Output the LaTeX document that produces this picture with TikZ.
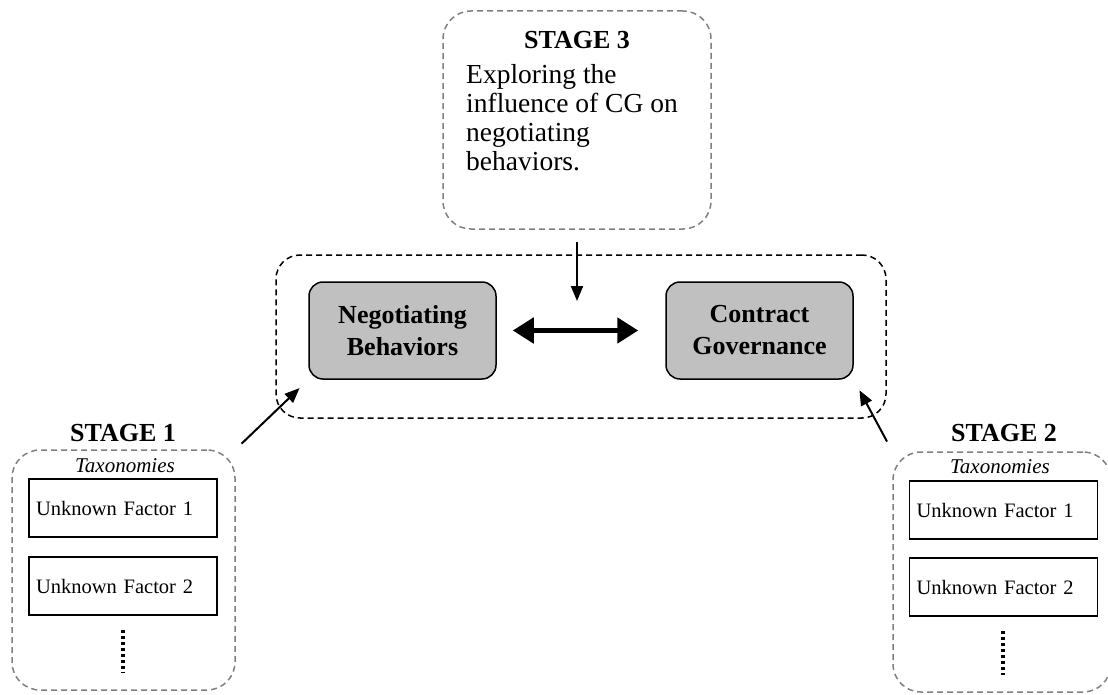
\documentclass[tikz,border=0pt]{standalone}
\usepackage{fontspec}
\setmainfont{Liberation Serif}
\usepackage{tikz}
\usetikzlibrary{arrows.meta, positioning}
\definecolor{stagegray}{RGB}{128, 128, 128}
\definecolor{corefill}{RGB}{192, 192, 192}
\tikzstyle{stagebox} = [rectangle, draw=stagegray, dash pattern=on 6pt off 4pt, rounded corners=28pt, line width=1.5pt, inner sep=0pt]
\tikzstyle{coreframe} = [rectangle, draw=black, dash pattern=on 6pt off 4pt, rounded corners=24pt, line width=1.5pt, minimum width=610pt, minimum height=163pt, inner sep=0pt]
\tikzstyle{corebox} = [rectangle, draw=black, fill=corefill, rounded corners=14pt, line width=1.5pt, minimum width=187pt, minimum height=97pt, inner sep=0pt, align=center, font=\fontsize{26}{32}\selectfont\bfseries]
\tikzstyle{factor} = [rectangle, draw=black, line width=1.5pt, text width=174pt, inner xsep=7pt, inner ysep=0pt, minimum height=58pt, align=left, font=\fontsize{20.5}{24}\selectfont]
\tikzstyle{stagelabel} = [inner sep=0pt, font=\fontsize{26}{28}\selectfont\bfseries]
\tikzstyle{taxlabel} = [inner sep=0pt, font=\fontsize{21}{24}\selectfont\itshape]
\tikzstyle{arrow} = [-{Triangle[length=15pt, width=12pt]}, line width=2pt]
\tikzstyle{bigarrow} = [{Triangle[length=21pt, width=25pt]}-{Triangle[length=21pt, width=25pt]}, line width=5pt]
\tikzstyle{dots} = [line width=4pt, dash pattern=on 3pt off 3pt]

\begin{document}
\begin{tikzpicture}[x=1pt, y=-1pt]
    \useasboundingbox (0,0) rectangle (1108,695);

    % Stage 3: research question
    \node[stagebox, minimum width=268pt, minimum height=218pt] (stage3) at (577, 120) {};
    \node[stagelabel] (stage3label) at (577, 40) {STAGE 3};
    \node[anchor=north west, align=left, inner sep=0pt, font=\fontsize{27.5}{29}\selectfont] (stage3text) at (466, 64) {Exploring the\\influence of CG on\\negotiating\\behaviors.};

    % Core constructs
    \node[coreframe] (core) at (581, 336.5) {};
    \node[corebox] (negbeh) at (402.5, 330.5) {Negotiating\\Behaviors};
    \node[corebox] (contgov) at (759.5, 330.5) {Contract\\Governance};
    \coordinate (coretop) at (577, 301);

    \draw[bigarrow, shorten <=16pt, shorten >=27pt] (negbeh) -- (contgov);
    \draw[arrow, shorten <=12pt] (stage3) -- (coretop);

    % Stage 1: taxonomies
    \node[stagebox, minimum width=223pt, minimum height=240pt] (stage1) at (123.5, 570) {};
    \node[stagelabel] (stage1label) at (123, 433) {STAGE 1};
    \node[taxlabel] (tax1) at (125, 466) {Taxonomies};
    \node[factor] (factor11) at (123, 508) {Unknown Factor 1};
    \node[factor] (factor12) at (123, 586) {Unknown Factor 2};
    \coordinate (dots1top) at (123, 630);
    \coordinate (dots1bot) at (123, 673);
    \draw[dots] (dots1top) -- (dots1bot);

    % Stage 2: taxonomies
    \node[stagebox, minimum width=218pt, minimum height=240pt] (stage2) at (1002, 572) {};
    \node[stagelabel] (stage2label) at (1004, 433) {STAGE 2};
    \node[taxlabel] (tax2) at (1000, 467) {Taxonomies};
    \node[factor] (factor21) at (1003.5, 510) {Unknown Factor 1};
    \node[factor] (factor22) at (1003.5, 587) {Unknown Factor 2};
    \coordinate (dots2top) at (1003, 631);
    \coordinate (dots2bot) at (1003, 675);
    \draw[dots] (dots2top) -- (dots2bot);

    % Links into the core
    \draw[arrow, shorten <=8pt, shorten >=12pt] (stage1.north east) -- (negbeh.south west);
    \draw[arrow, shorten <=11pt, shorten >=12pt] (stage2.north west) -- (contgov.south east);
\end{tikzpicture}
\end{document}
